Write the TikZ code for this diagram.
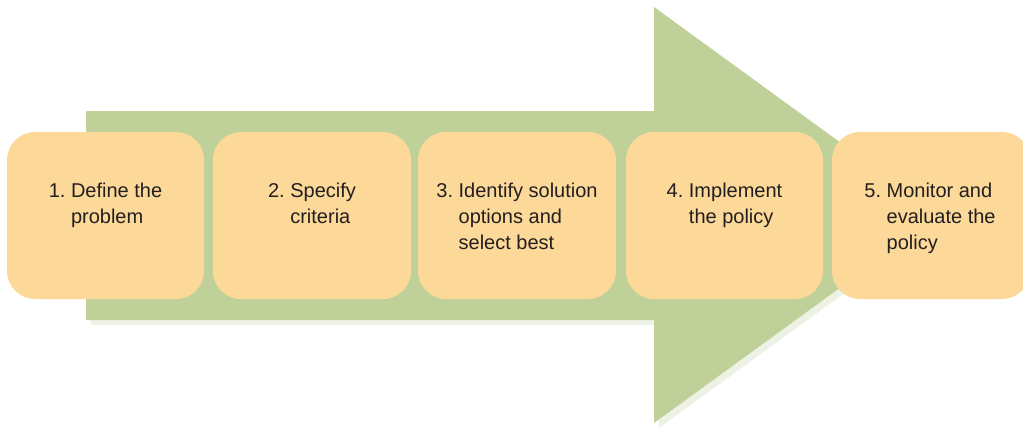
\documentclass[tikz,border=0pt]{standalone}
\usepackage{fontspec}
\setmainfont{Liberation Sans}
\frenchspacing
\definecolor{arrowgreen}{HTML}{BFD199}
\definecolor{arrowshade}{HTML}{EEF2E5}
\definecolor{stepfill}{HTML}{FCD899}
\definecolor{steptext}{HTML}{231F20}
\begin{document}
\begin{tikzpicture}[x=1pt,y=-1pt,
  stepbox/.style={fill=stepfill, rounded corners=28pt},
  steplabel/.style={anchor=north, inner sep=0pt, align=left, text=steptext,
    font=\fontsize{20}{26}\selectfont}]
\useasboundingbox (0,0) rectangle (1023,426);
% big arrow with its soft shadow
\fill[arrowshade, shift={(5,5)}] (86,111) -- (654,111) -- (654,7) -- (940,215)
  -- (654,423) -- (654,320) -- (86,320) -- cycle;
\fill[arrowgreen] (86,111) -- (654,111) -- (654,7) -- (940,215)
  -- (654,423) -- (654,320) -- (86,320) -- cycle;
% the five steps
\fill[stepbox] (7,132) rectangle (204,299);
\fill[stepbox] (213,132) rectangle (411,299);
\fill[stepbox] (418,132) rectangle (616,299);
\fill[stepbox] (626,132) rectangle (823,299);
\fill[stepbox] (832,132) rectangle (1030,299);
\node[steplabel] (s1) at (105.5,179) {\strut 1. Define the\\\hphantom{1. }problem};
\node[steplabel] (s2) at (312,179) {\strut 2. Specify\\\hphantom{2. }criteria};
\node[steplabel] (s3) at (517,179) {\strut 3. Identify solution\\\hphantom{3. }options and\\\hphantom{3. }select best};
\node[steplabel] (s4) at (724.5,179) {\strut 4. Implement\\\hphantom{4. }the policy};
\node[steplabel] (s5) at (930,179) {\strut 5. Monitor and\\\hphantom{5. }evaluate the\\\hphantom{5. }policy};
\end{tikzpicture}
\end{document}
